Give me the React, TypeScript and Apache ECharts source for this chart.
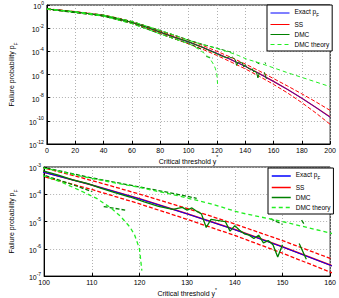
import React, { useEffect, useRef } from "react";
import * as echarts from "echarts";

const FONT = "'Liberation Sans', Arial, Helvetica, sans-serif";
const BLUE = "#0000ff";
const RED = "#ff0000";
const DGREEN = "#008000";
const LGREEN = "#22ee22";

// Critical threshold values for the exact / SS curves
const thresholdX = [0, 10, 20, 30, 40, 50, 60, 70, 80, 90, 100, 110, 120, 130, 140, 150, 160, 170, 180, 190, 200];
const exactP = [0.447, 0.339, 0.251, 0.178, 0.12, 0.0661, 0.0316, 0.0126, 4.47e-3, 1.66e-3, 6.31e-4, 2.19e-4, 6.76e-5, 1.91e-5, 5.01e-6, 1.17e-6, 2.51e-7, 5.01e-8, 8.91e-9, 1.41e-9, 2.0e-10];
const ssP = [0.45, 0.34, 0.25, 0.178, 0.121, 0.066, 0.0318, 0.0127, 4.5e-3, 1.67e-3, 6.4e-4, 2.2e-4, 6.9e-5, 1.93e-5, 5.1e-6, 1.19e-6, 2.55e-7, 5.1e-8, 9.1e-9, 1.45e-9, 2.1e-10];
const ssUpperP = [0.479, 0.367, 0.275, 0.197, 0.135, 0.0759, 0.0372, 0.0153, 5.62e-3, 2.21e-3, 9.3e-4, 3.2e-4, 1.02e-4, 3.02e-5, 8.13e-6, 2.0e-6, 4.47e-7, 1.0e-7, 2.14e-8, 4.27e-9, 7.94e-10];
const ssLowerP = [0.417, 0.313, 0.229, 0.16, 0.107, 0.0575, 0.0269, 0.01035, 3.55e-3, 1.24e-3, 4.4e-4, 1.5e-4, 4.47e-5, 1.2e-5, 3.09e-6, 6.92e-7, 1.41e-7, 2.51e-8, 3.72e-9, 4.68e-10, 5.01e-11];

// Direct Monte Carlo estimate
const dmcX = [0, 10, 20, 30, 40, 50, 60, 70, 80, 90, 100, 103, 106, 109, 112, 115, 118, 121, 124, 127, 129, 130, 131, 132, 133, 134, 135, 136, 137, 138, 139, 140, 141, 142, 143, 144, 145, 146, 147, 148, 149, 150, 152, 153.5, 155];
const dmcP: (number | null)[] = [0.447, 0.339, 0.251, 0.178, 0.117, 0.0646, 0.0316, 0.0126, 4.57e-3, 1.62e-3, 7.08e-4, 5.01e-4, 3.39e-4, 2.51e-4, 1.66e-4, 1.12e-4, 7.94e-5, 5.25e-5, 3.63e-5, 2.82e-5, 3.31e-5, 2.63e-5, 3.16e-5, 2.4e-5, 1.91e-5, 6.03e-6, 1.2e-5, 1.12e-5, 1.05e-5, 1.0e-5, 4.47e-6, 7.08e-6, 4.79e-6, 3.55e-6, 3.16e-6, 2.4e-6, 3.16e-6, 1.66e-6, 2.0e-6, 1.41e-6, 5.01e-7, 1.41e-6, null, 1.58e-6, 4.17e-7];

// DMC empirical bounds
const dmcUpperX = [0, 40, 60, 80, 90, 100, 110, 120, 128, 132, 140, 147.5, 150, 152, 154, 154.5];
const dmcUpperP: (number | null)[] = [0.468, 0.135, 0.038, 6.31e-3, 2.51e-3, 9.55e-4, 3.98e-4, 1.86e-4, 1.0e-4, 7.08e-5, null, 1.26e-5, 7.94e-6, null, 1.12e-5, 8.32e-6];
const dmcLowerX = [0, 40, 60, 80, 90, 100, 106, 110, 111, 112.5, 117];
const dmcLowerP: (number | null)[] = [0.427, 0.107, 0.0251, 3.16e-3, 1.2e-3, 5.01e-4, 2.24e-4, 1.26e-4, null, 3.55e-5, 2.63e-5];

// DMC theory bounds
const theoryUpperX = [0, 20, 40, 60, 80, 90, 100, 110, 120, 128, 135, 141, 150, 160, 170, 180, 190, 200];
const theoryUpperP = [0.468, 0.269, 0.135, 0.038, 6.31e-3, 2.51e-3, 9.12e-4, 3.8e-4, 1.78e-4, 8.91e-5, 4.47e-5, 2.14e-5, 1.0e-5, 3.8e-6, 1.41e-6, 5.62e-7, 2.24e-7, 8.91e-8];
const theoryLowerX = [0, 20, 40, 60, 80, 90, 100, 104, 108, 111, 114, 116, 118, 119, 120, 120.5];
const theoryLowerP = [0.427, 0.234, 0.107, 0.0251, 3.16e-3, 1.2e-3, 4.68e-4, 2.63e-4, 1.26e-4, 7.08e-5, 3.16e-5, 1.58e-5, 6.31e-6, 3.16e-6, 1.0e-6, 1.58e-7];

// Minor log grid (bottom panel)
const minorMultipliers = [2, 3, 4, 5, 6, 7, 8, 9];
const minorDecades = [1e-7, 1e-6, 1e-5, 1e-4];

const legendNames = ["Exact pF", "SS", "DMC", "DMC theory"];

const toData = (xs: number[], ys: (number | null)[]) =>
  xs.map((x, i) => [x, ys[i] == null ? "-" : ys[i]]);

const supRich = (size: number) => ({
  b: { fontSize: size, lineHeight: 10, verticalAlign: "bottom", fontFamily: FONT, color: "#000" },
  s: { fontSize: size - 2, lineHeight: 10, verticalAlign: "top", fontFamily: FONT, color: "#000" },
});
const subRich = (size: number) => ({
  b: { fontSize: size, lineHeight: 10, verticalAlign: "top", fontFamily: FONT, color: "#000" },
  s: { fontSize: size - 2, lineHeight: 10, verticalAlign: "bottom", fontFamily: FONT, color: "#000" },
});

const GRID_LINE = { color: "#b0b0b0", type: [1, 2] as number[], width: 1 };

function makeX(g: number, min: number, max: number, interval: number, nameGap: number) {
  return {
    type: "value",
    gridIndex: g,
    min,
    max,
    interval,
    name: "{b|Critical threshold y}{s|*}",
    nameLocation: "middle",
    nameGap,
    nameTextStyle: { rich: supRich(7) },
    axisLine: { show: true, onZero: false, lineStyle: { color: "#000", width: 1 } },
    axisTick: { show: true, inside: true, length: 3, lineStyle: { color: "#000" } },
    axisLabel: { fontSize: 7, color: "#000", margin: 3, fontFamily: FONT },
    splitLine: { show: true, lineStyle: GRID_LINE },
  };
}

function makeY(g: number, min: number, max: number, logBase: number, splitNumber: number) {
  return {
    type: "log",
    gridIndex: g,
    min,
    max,
    logBase,
    splitNumber,
    name: "{b|Failure probability p}{s|F}",
    nameLocation: "middle",
    nameGap: 19,
    nameRotate: 90,
    nameTextStyle: { rich: subRich(7) },
    axisLine: { show: true, onZero: false, lineStyle: { color: "#000", width: 1 } },
    axisTick: { show: true, inside: true, length: 3, lineStyle: { color: "#000" } },
    axisLabel: {
      margin: 3,
      formatter: (v: number) => `{b|10}{s|${Math.round(Math.log10(v))}}`,
      rich: supRich(7),
    },
    splitLine: { show: true, lineStyle: GRID_LINE },
  };
}

function makeLegend(left: number, top: number, itemHeight: number, gap: number, lw: number) {
  return {
    left,
    top,
    orient: "vertical",
    data: legendNames,
    itemWidth: 19,
    itemHeight,
    itemGap: gap,
    padding: [3, 3, 3, 3],
    backgroundColor: "#fff",
    borderColor: "#000",
    borderWidth: 1,
    borderRadius: 0,
    selectedMode: false,
    lineStyle: { width: lw },
    itemStyle: { opacity: 0, borderWidth: 0 },
    formatter: (n: string) => (n === "Exact pF" ? "{b|Exact p}{s|F}" : n),
    textStyle: { fontSize: 6.5, color: "#000", fontFamily: FONT, rich: subRich(6.5) },
    z: 20,
  };
}

function curves(g: number, w: number, mainW: number, exactW: number) {
  const base = {
    type: "line",
    xAxisIndex: g,
    yAxisIndex: g,
    symbol: "none",
    showSymbol: false,
    silent: true,
    clip: true,
    animation: false,
  };
  const mk = (name: string, xs: number[], ys: (number | null)[], color: string, width: number, type: any, z: number) => ({
    ...base,
    name,
    data: toData(xs, ys),
    z,
    itemStyle: { color },
    lineStyle: { color, width, type },
  });
  return [
    mk("SS", thresholdX, ssP, RED, mainW, "solid", 2),
    mk("Exact pF", thresholdX, exactP, BLUE, exactW, "solid", 3),
    mk("SS upper", thresholdX, ssUpperP, RED, w, [4, 2], 4),
    mk("SS lower", thresholdX, ssLowerP, RED, w, [4, 2], 4),
    mk("DMC", dmcX, dmcP, DGREEN, w, "solid", 5),
    mk("DMC upper", dmcUpperX, dmcUpperP, DGREEN, w, [4, 2], 6),
    mk("DMC lower", dmcLowerX, dmcLowerP, DGREEN, w, [4, 2], 6),
    mk("DMC theory", theoryUpperX, theoryUpperP, LGREEN, w, [4, 3], 7),
    mk("DMC theory lower", theoryLowerX, theoryLowerP, LGREEN, w, [4, 3], 7),
  ];
}

export default function App() {
  const ref = useRef<HTMLDivElement>(null);
  useEffect(() => {
    if (!ref.current) return;
    const chart = echarts.init(ref.current, undefined, { renderer: "svg" });
    const option: any = {
      animation: false,
      backgroundColor: "#fff",
      textStyle: { fontFamily: FONT },
      grid: [
        { left: 30, top: 5, width: 301, height: 139, show: true, borderColor: "#000", borderWidth: 1, backgroundColor: "#fff" },
        { left: 30, top: 167, width: 301, height: 110, show: true, borderColor: "#000", borderWidth: 1, backgroundColor: "#fff" },
      ],
      xAxis: [makeX(0, 0, 200, 20, 9), makeX(1, 100, 160, 10, 10)],
      yAxis: [makeY(0, 1e-12, 1, 100, 6), makeY(1, 1e-7, 1e-3, 10, 4)],
      legend: [makeLegend(267, 5, 7, 3, 1), makeLegend(268, 168, 8, 3, 1.5)],
      series: [
        ...curves(0, 1, 1.2, 0.7),
        ...curves(1, 1.3, 1.6, 1),
        {
          type: "line",
          name: "minor grid",
          xAxisIndex: 1,
          yAxisIndex: 1,
          data: [],
          silent: true,
          markLine: {
            silent: true,
            symbol: "none",
            animation: false,
            z: 1,
            label: { show: false },
            lineStyle: GRID_LINE,
            data: minorDecades.flatMap((d) => minorMultipliers.map((m) => ({ yAxis: m * d }))),
          },
        },
      ],
    };
    chart.setOption(option);
    return () => chart.dispose();
  }, []);
  return <div ref={ref} style={{ position: "fixed", left: 0, top: 0, width: 339, height: 298 }} />;
}
